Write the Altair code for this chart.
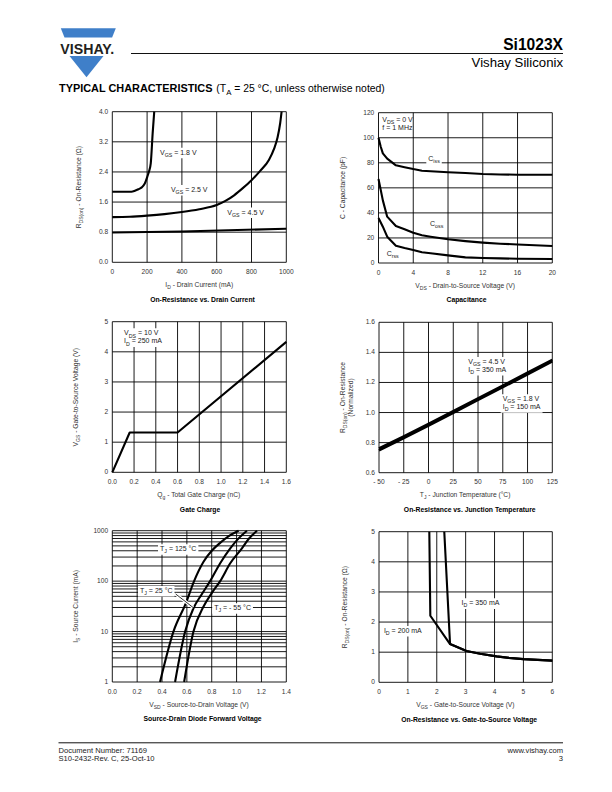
import altair as alt
import pandas as pd

# ----------------------------------------------------------------- page layout
PW, PH = 596, 776          # drawable page (612x792 minus the 8px margin)
M = 8
FONT = "Liberation Sans"
INK = "#1a1a1a"
SUB = 0.75

# ----------------------------------------------------------------- data
# 1. On-Resistance vs. Drain Current
c1_id_18 = [0, 110, 130, 150, 169, 185, 201, 210, 221, 232, 241]
c1_r_18 = [1.875, 1.875, 1.9, 1.94, 1.99, 2.08, 2.27, 2.4, 2.63, 3.43, 4.0]
c1_id_25 = [0, 100, 200, 300, 400, 500, 600, 650, 700, 750, 800, 850, 900, 930, 950, 965, 973]
c1_r_25 = [1.2, 1.21, 1.24, 1.28, 1.335, 1.41, 1.52, 1.63, 1.78, 1.97, 2.18, 2.43, 2.72, 3.02, 3.32, 3.7, 4.0]
c1_id_45 = [0, 400, 1000]
c1_r_45 = [0.79, 0.82, 0.89]

# 2. Capacitance
c2_ciss_v = [0, 0.25, 0.5, 1, 2, 3, 4, 5, 6, 8, 10, 12, 14, 16, 20]
c2_ciss_c = [100, 93, 87.5, 83.3, 78, 76.5, 75, 73.7, 73.3, 72.4, 71.8, 71.0, 70.7, 70.5, 70.4]
c2_coss_v = [0, 0.5, 1, 2, 3, 4, 5, 6, 8, 10, 12, 14, 16, 20]
c2_coss_c = [67, 50, 37, 29.5, 27, 24.2, 22.2, 21, 18.9, 17.5, 16.3, 15.4, 14.8, 13.6]
c2_crss_v = [0, 0.5, 1, 2, 3, 4, 5, 6, 8, 10, 12, 14, 16, 20]
c2_crss_c = [36, 29, 21, 13.8, 12, 10.4, 8.6, 7.8, 6.1, 4.5, 4.0, 3.7, 3.4, 3.2]

# 3. Gate Charge
c3_qg = [0, 0.16, 0.6, 1.6]
c3_vgs = [0, 1.32, 1.32, 4.33]

# 4. On-Resistance vs. Junction Temperature
c4_tj = [-50, -25, 0, 25, 50, 75, 100, 125]
c4_r_45 = [0.762, 0.842, 0.925, 1.01, 1.095, 1.18, 1.265, 1.35]
c4_r_18 = [0.748, 0.83, 0.913, 0.998, 1.083, 1.168, 1.254, 1.34]

# 5. Source-Drain Diode Forward Voltage
c5_v_125 = [0.384, 0.492, 0.594, 0.658, 0.734, 0.80, 0.87, 0.94, 1.016]
c5_i_125 = [1, 10, 37.6, 100, 242, 400, 580, 790, 1000]
c5_v_25 = [0.505, 0.586, 0.653, 0.72, 0.787, 0.868, 0.949, 1.02, 1.083]
c5_i_25 = [1, 10, 29, 55, 100, 226, 447, 720, 1000]
c5_v_m55 = [0.578, 0.653, 0.734, 0.80, 0.868, 0.949, 1.043, 1.10, 1.164]
c5_i_m55 = [1, 10, 31.3, 58, 100, 226, 447, 700, 1000]

# 6. On-Resistance vs. Gate-to-Source Voltage
c6_v_200 = [1.742, 1.777, 2.46, 3.03, 3.5, 4.07, 4.5, 5.0, 5.5, 6.0]
c6_r_200 = [5.0, 2.21, 1.27, 1.04, 0.95, 0.86, 0.81, 0.77, 0.745, 0.72]
c6_v_350 = [2.26, 2.46, 3.03, 3.5, 4.07, 4.5, 5.0, 5.5, 6.0]
c6_r_350 = [5.0, 1.27, 1.04, 0.95, 0.86, 0.81, 0.77, 0.745, 0.72]

# tick values and tick labels
c1_xt = [0, 200, 400, 600, 800, 1000]
c1_xl = ["0", "200", "400", "600", "800", "1000"]
c1_yt = [0.0, 0.8, 1.6, 2.4, 3.2, 4.0]
c1_yl = ["0.0", "0.8", "1.6", "2.4", "3.2", "4.0"]
c2_xt = [0, 4, 8, 12, 16, 20]
c2_xl = ["0", "4", "8", "12", "16", "20"]
c2_yt = [0, 20, 40, 60, 80, 100, 120]
c2_yl = ["0", "20", "40", "60", "80", "100", "120"]
c3_xt = [0.0, 0.2, 0.4, 0.6, 0.8, 1.0, 1.2, 1.4, 1.6]
c3_xl = ["0.0", "0.2", "0.4", "0.6", "0.8", "1.0", "1.2", "1.4", "1.6"]
c3_yt = [0, 1, 2, 3, 4, 5]
c3_yl = ["0", "1", "2", "3", "4", "5"]
c4_xt = [-50, -25, 0, 25, 50, 75, 100, 125]
c4_xl = ["- 50", "- 25", "0", "25", "50", "75", "100", "125"]
c4_yt = [0.6, 0.8, 1.0, 1.2, 1.4, 1.6]
c4_yl = ["0.6", "0.8", "1.0", "1.2", "1.4", "1.6"]
c5_xt = [0.0, 0.2, 0.4, 0.6, 0.8, 1.0, 1.2, 1.4]
c5_xl = ["0.0", "0.2", "0.4", "0.6", "0.8", "1.0", "1.2", "1.4"]
c5_yt = [1, 10, 100, 1000]
c5_yl = ["1", "10", "100", "1000"]
c5_ygrid = [1, 2, 3, 4, 5, 6, 7, 8, 9, 10, 20, 30, 40, 50, 60, 70, 80, 90,
            100, 200, 300, 400, 500, 600, 700, 800, 900, 1000]
c6_xt = [0, 1, 2, 3, 4, 5, 6]
c6_xl = ["0", "1", "2", "3", "4", "5", "6"]
c6_yt = [0, 1, 2, 3, 4, 5]
c6_yl = ["0", "1", "2", "3", "4", "5"]

# ----------------------------------------------------------------- text metrics
AW = {' ': 278, '(': 333, ')': 333, '-': 333, '.': 278, ',': 278, ':': 278, '=': 584, '°': 400, 'Ω': 768,
      'A': 667, 'B': 667, 'C': 722, 'D': 722, 'E': 667, 'F': 611, 'G': 778, 'H': 722, 'I': 278, 'J': 500,
      'K': 667, 'L': 556, 'M': 833, 'N': 722, 'O': 778, 'P': 667, 'Q': 778, 'R': 722, 'S': 667, 'T': 611,
      'U': 722, 'V': 667, 'W': 944, 'X': 667, 'Y': 667, 'Z': 611,
      'a': 556, 'b': 556, 'c': 500, 'd': 556, 'e': 556, 'f': 278, 'g': 556, 'h': 556, 'i': 222, 'j': 222,
      'k': 500, 'l': 222, 'm': 833, 'n': 556, 'o': 556, 'p': 556, 'q': 556, 'r': 333, 's': 500, 't': 278,
      'u': 556, 'v': 500, 'w': 722, 'x': 500, 'y': 500, 'z': 500}
BW = {' ': 278, 'A': 722, 'C': 722, 'E': 667, 'H': 722, 'I': 278, 'L': 611, 'P': 667, 'R': 722, 'S': 667,
      'T': 611, 'Y': 667}


def tw(s, size, bold=False):
    tab = BW if bold else AW
    return sum(tab.get(c, AW.get(c, 556)) for c in s) * size / 1000.0


def parts_w(parts, size):
    return sum(tw(t, size * SUB if s else size) for t, s in parts)


ONE = pd.DataFrame({"k": [0]})


def pieces(df, enc, parts, size, start=0.0, dy0=0.0, angle=None, color=INK, weight="normal"):
    out = []
    pos = start
    for text, sub in parts:
        fs = size * SUB if sub else size
        lead = len(text) - len(text.lstrip(" "))
        pos += tw(" " * lead, fs)          # leading blanks are collapsed by SVG: move instead
        body = text.lstrip(" ")
        kw = dict(align="left", baseline="middle", font=FONT, fontSize=round(fs, 2), color=color,
                  fontWeight=weight, dx=round(pos, 2), dy=round(dy0 + (size * 0.3 if sub else 0), 2))
        if angle is not None:
            kw["angle"] = angle
        out.append(alt.Chart(df).mark_text(**kw).encode(text=alt.value(body), **enc))
        pos += tw(body, fs)
    return out


def page_text(px, py, parts, size, center=False, angle=None, color=INK, weight="normal"):
    enc = dict(x=alt.value(px - M), y=alt.value(py - M))
    start = -parts_w(parts, size) / 2 if center else 0.0
    return pieces(ONE, enc, parts, size, start=start, angle=angle, color=color, weight=weight)


# ----------------------------------------------------------------- panels
TICK = dict(font=FONT, fontSize=6.6, color="#333")


def panel(box, xdom, ydom, xgrid, ygrid, xt, xl, yt, yl, series, annots,
          xtitle, ytitles, caption, ylog=False, lw=2.1, interp="linear", leader=None):
    l, r, t, b = box
    xs = alt.Scale(domain=xdom, range=[l - M, r - M], nice=False, zero=False)
    if ylog:
        ys = alt.Scale(type="log", domain=ydom, range=[b - M, t - M], nice=False)
    else:
        ys = alt.Scale(domain=ydom, range=[b - M, t - M], nice=False, zero=False)

    layers = []
    layers.append(alt.Chart(pd.DataFrame({"v": xgrid})).mark_rule(color="black", strokeWidth=0.9).encode(
        x=alt.X("v:Q", scale=xs, axis=None), y=alt.value(t - M), y2=alt.value(b - M)))
    layers.append(alt.Chart(pd.DataFrame({"v": ygrid})).mark_rule(color="black", strokeWidth=0.9).encode(
        y=alt.Y("v:Q", scale=ys, axis=None), x=alt.value(l - M), x2=alt.value(r - M)))
    # tick labels
    layers.append(alt.Chart(pd.DataFrame({"v": xt, "lab": xl})).mark_text(
        align="center", baseline="middle", **TICK).encode(
        x=alt.X("v:Q", scale=xs, axis=None), y=alt.value(b - M + 9.6), text="lab:N"))
    layers.append(alt.Chart(pd.DataFrame({"v": yt, "lab": yl})).mark_text(
        align="right", baseline="middle", **TICK).encode(
        y=alt.Y("v:Q", scale=ys, axis=None), x=alt.value(l - M - 4.2), text="lab:N"))

    texts = []
    boxes = []
    for (xd, yd, lines, withbox) in annots:
        df = pd.DataFrame({"x": [xd], "y": [yd]})
        enc = dict(x=alt.X("x:Q", scale=xs, axis=None), y=alt.Y("y:Q", scale=ys, axis=None))
        size, gap = 7.0, 8.0
        if withbox:
            wmax = max(parts_w(p, size) for p in lines)
            x0, x1 = -2.0, wmax + 2.0
            y0, y1 = -(size / 2 + 1.6), (len(lines) - 1) * gap + size / 2 + 2.0
            path = f"M{x0:.2f},{y0:.2f}L{x1:.2f},{y0:.2f}L{x1:.2f},{y1:.2f}L{x0:.2f},{y1:.2f}Z"
            boxes.append(alt.Chart(df).mark_point(shape=path, size=4, filled=True, fill="white",
                                                  opacity=1, strokeWidth=0).encode(**enc))
        for i, p in enumerate(lines):
            texts += pieces(df, enc, p, size, dy0=i * gap)
    layers += boxes

    rows = []
    for name, xv, yv in series:
        for i, (a, c) in enumerate(zip(xv, yv)):
            rows.append({"s": name, "i": i, "x": a, "y": c})
    layers.append(alt.Chart(pd.DataFrame(rows)).mark_line(
        color="black", strokeWidth=lw, interpolate=interp, strokeJoin="round").encode(
        x=alt.X("x:Q", scale=xs, axis=None), y=alt.Y("y:Q", scale=ys, axis=None),
        detail="s:N", order="i:Q"))

    if leader is not None:
        ldf = pd.DataFrame({"x": [leader[0]], "y": [leader[1]], "x2": [leader[2]], "y2": [leader[3]]})
        for col, w in (("white", 3.0), ("black", 0.8)):
            layers.append(alt.Chart(ldf).mark_rule(color=col, strokeWidth=w).encode(
                x=alt.X("x:Q", scale=xs, axis=None), y=alt.Y("y:Q", scale=ys, axis=None),
                x2="x2:Q", y2="y2:Q"))
    layers += texts

    # titles / caption
    cx = (l + r) / 2
    cy = (t + b) / 2
    deco = []
    deco += page_text(cx, b + 22.5, xtitle, 6.7, center=True, color="#333")
    for (px, parts) in ytitles:
        deco += page_text(px, cy, parts, 6.7, center=True, angle=270, color="#333")
    deco += page_text(cx, b + 37.2, [(caption, False)], 6.8, center=True, color="black", weight="bold")
    return alt.layer(*layers), deco


V = lambda sub, rest: [("V", False), (sub, True), (rest, False)]

p1, d1 = panel(
    (112.3, 286.3, 111.7, 262.3), [0, 1000], [0, 4], c1_xt, c1_yt, c1_xt, c1_xl, c1_yt, c1_yl,
    [("1.8", c1_id_18, c1_r_18), ("2.5", c1_id_25, c1_r_25), ("4.5", c1_id_45, c1_r_45)],
    [(274, 2.91, [V("GS", " = 1.8 V")], True),
     (337, 1.92, [V("GS", " = 2.5 V")], True),
     (661, 1.32, [V("GS", " = 4.5 V")], True)],
    [("I", False), ("D", True), (" - Drain Current (mA)", False)],
    [(79.0, [("R", False), ("DS(on)", True), (" - On-Resistance (Ω)", False)])],
    "On-Resistance vs. Drain Current", interp="monotone")

p2, d2 = panel(
    (378.5, 552.3, 112.7, 263.0), [0, 20], [0, 120], c2_xt, c2_yt, c2_xt, c2_xl, c2_yt, c2_yl,
    [("ciss", c2_ciss_v, c2_ciss_c), ("coss", c2_coss_v, c2_coss_c), ("crss", c2_crss_v, c2_crss_c)],
    [(0.44, 114.2, [V("DS", " = 0 V"), [("f = 1 MHz", False)]], False),
     (5.73, 83.3, [[("C", False), ("iss", True)]], True),
     (5.93, 31.1, [[("C", False), ("oss", True)]], True),
     (0.94, 7.2, [[("C", False), ("rss", True)]], True)],
    V("DS", " - Drain-to-Source Voltage (V)"),
    [(343.3, [("C - Capacitance (pF)", False)])],
    "Capacitance")

p3, d3 = panel(
    (112.3, 286.3, 321.7, 472.3), [0, 1.6], [0, 5], c3_xt, c3_yt, c3_xt, c3_xl, c3_yt, c3_yl,
    [("qg", c3_qg, c3_vgs)],
    [(0.108, 4.61, [V("DS", " = 10 V"), [("I", False), ("D", True), (" = 250 mA", False)]], True)],
    [("Q", False), ("g", True), (" - Total Gate Charge (nC)", False)],
    [(76.0, V("GS", " - Gate-to-Source Voltage (V)"))],
    "Gate Charge")

p4, d4 = panel(
    (379.0, 552.3, 322.3, 472.7), [-50, 125], [0.6, 1.6], c4_xt, c4_yt, c4_xt, c4_xl, c4_yt, c4_yl,
    [("4.5", c4_tj, c4_r_45), ("1.8", c4_tj, c4_r_18)],
    [(40.2, 1.336, [V("GS", " = 4.5 V"), [("I", False), ("D", True), (" = 350 mA", False)]], True),
     (74.9, 1.088, [V("GS", " = 1.8 V"), [("I", False), ("D", True), (" = 150 mA", False)]], True)],
    [("T", False), ("J", True), (" - Junction Temperature (°C)", False)],
    [(342.7, [("R", False), ("DS(on)", True), (" - On-Resistance", False)]),
     (350.7, [("(Normalized)", False)])],
    "On-Resistance vs. Junction Temperature", lw=2.4)

p5, d5 = panel(
    (112.3, 286.3, 530.7, 682.0), [0, 1.4], [1, 1000], c5_xt, c5_ygrid, c5_xt, c5_xl, c5_yt, c5_yl,
    [("125", c5_v_125, c5_i_125), ("25", c5_v_25, c5_i_25), ("-55", c5_v_m55, c5_i_m55)],
    [(0.384, 428, [[("T", False), ("J", True), (" = 125 °C", False)]], True),
     (0.223, 63.7, [[("T", False), ("J", True), (" = 25 °C", False)]], True),
     (0.82, 28.9, [[("T", False), ("J", True), (" = - 55 °C", False)]], True)],
    V("SD", " - Source-to-Drain Voltage (V)"),
    [(75.7, [("I", False), ("S", True), (" - Source Current (mA)", False)])],
    "Source-Drain Diode Forward Voltage", ylog=True, interp="monotone",
    leader=(0.51, 55.6, 0.65, 30))

p6, d6 = panel(
    (379.0, 552.3, 531.7, 682.3), [0, 6], [0, 5], c6_xt, c6_yt, c6_xt, c6_xl, c6_yt, c6_yl,
    [("200", c6_v_200, c6_r_200), ("350", c6_v_350, c6_r_350)],
    [(2.86, 2.62, [[("I", False), ("D", True), (" =", False), (" 350 mA", False)]], True),
     (0.17, 1.70, [[("I", False), ("D", True), (" =", False), (" 200 mA", False)]], True)],
    V("GS", " - Gate-to-Source Voltage (V)"),
    [(345.0, [("R", False), ("DS(on)", True), (" - On-Resistance (Ω)", False)])],
    "On-Resistance vs. Gate-to-Source Voltage")

# ----------------------------------------------------------------- header / footer
BLUE = "#3f7fc9"
deco = []
deco.append(alt.Chart(ONE).mark_point(
    shape="M-27.5,-4.6L27.5,-4.6L23.8,4.6L-23.8,4.6Z", size=4, filled=True, fill=BLUE, opacity=1,
    strokeWidth=0).encode(x=alt.value(88.3 - M), y=alt.value(32.8 - M)))
deco.append(alt.Chart(ONE).mark_point(
    shape="M-17,-10.6L17,-10.6L0,10.6Z", size=4, filled=True, fill=BLUE, opacity=1,
    strokeWidth=0).encode(x=alt.value(86.5 - M), y=alt.value(66.6 - M)))
deco.append(alt.Chart(ONE).mark_text(align="center", baseline="alphabetic", font=FONT, fontSize=14.2,
                                     fontWeight="bold", color="#231f20").encode(
    x=alt.value(87.2 - M), y=alt.value(54.2 - M), text=alt.value("VISHAY.")))
deco.append(alt.Chart(ONE).mark_rule(color="#111", strokeWidth=1.0).encode(
    x=alt.value(131 - M), x2=alt.value(563 - M), y=alt.value(53.5 - M)))
deco.append(alt.Chart(ONE).mark_text(align="right", baseline="alphabetic", font=FONT, fontSize=15.6,
                                     fontWeight="bold", color="black").encode(
    x=alt.value(563 - M), y=alt.value(49.5 - M), text=alt.value("Si1023X")))
deco.append(alt.Chart(ONE).mark_text(align="right", baseline="alphabetic", font=FONT, fontSize=13.2,
                                     color="black").encode(
    x=alt.value(563 - M), y=alt.value(67 - M), text=alt.value("Vishay Siliconix")))
head_size = 10.9
deco += page_text(59, 89.4, [("TYPICAL CHARACTERISTICS", False)], head_size, color="black", weight="bold")
head_w = tw("TYPICAL CHARACTERISTICS", head_size, bold=True) + 3.5
deco += pieces(ONE, dict(x=alt.value(59 + head_w - M), y=alt.value(89.4 - M)),
               [("(T", False), ("A", True), (" = 25 °C, unless otherwise noted)", False)], 10.4,
               color="black")
# footer
deco.append(alt.Chart(ONE).mark_rule(color="#111", strokeWidth=1.0).encode(
    x=alt.value(58.5 - M), x2=alt.value(563 - M), y=alt.value(742.8 - M)))
for txt, px, py, al in [("Document Number: 71169", 58.5, 751.2, "left"),
                        ("S10-2432-Rev. C, 25-Oct-10", 58.5, 759.4, "left"),
                        ("www.vishay.com", 563, 751.2, "right"),
                        ("3", 563, 759.4, "right")]:
    deco.append(alt.Chart(ONE).mark_text(align=al, baseline="middle", font=FONT, fontSize=7.6,
                                         color="#222").encode(
        x=alt.value(px - M), y=alt.value(py - M), text=alt.value(txt)))

chart = alt.layer(p1, p2, p3, p4, p5, p6, *d1, *d2, *d3, *d4, *d5, *d6, *deco).resolve_scale(
    x="independent", y="independent").properties(
    width=PW, height=PH, autosize=alt.AutoSizeParams(type="none"), padding=0).configure_view(strokeWidth=0)

chart.save("out.html", embed_options={"renderer": "svg", "actions": False})
